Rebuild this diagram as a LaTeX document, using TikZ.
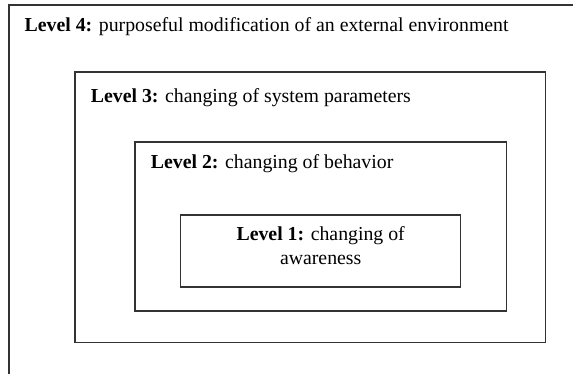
\documentclass[tikz,border=0pt]{standalone}
\usepackage{fontspec}
\setmainfont{Liberation Serif}
\begin{document}
\begin{tikzpicture}[x=1pt,y=-1pt,
  frame/.style={draw=black!80,line width=1.1pt},
  lbl/.style={inner sep=0pt,font=\fontsize{19.8}{24}\selectfont}]
\useasboundingbox (0,0) rectangle (573,373);
\begin{scope}
\clip (0,0) rectangle (573,373);
\draw[frame] (9,5) rectangle (590,390);
\end{scope}
\coordinate (l4) at (9,5);
\draw[frame] (75,72) rectangle (545.7,342.7);
\coordinate (l3) at (75,72);
\draw[frame] (135,142) rectangle (506.7,311);
\coordinate (l2) at (135,142);
\draw[frame] (180.7,215) rectangle (460.7,287);
\coordinate (l1) at (180.7,215);
\node[lbl,anchor=base west] (t4) at (24.5,31.7) {\textbf{Level 4:} purposeful modification of an external environment};
\node[lbl,anchor=base west] (t3) at (90.7,102.5) {\textbf{Level 3:} changing of system parameters};
\node[lbl,anchor=base west] (t2) at (150.7,168) {\textbf{Level 2:} changing of behavior};
\node[lbl,anchor=base,align=center] (t1) at (320.7,264) {\textbf{Level 1:} changing of\\awareness};
\end{tikzpicture}
\end{document}
